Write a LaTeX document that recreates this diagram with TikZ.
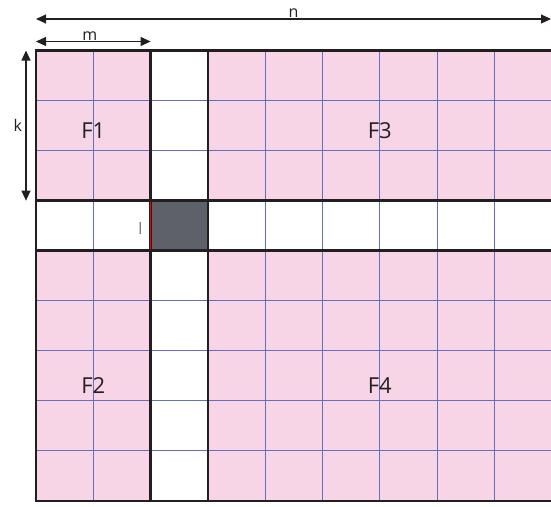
\documentclass[tikz,border=0pt]{standalone}
\usepackage{fontspec}
\setmainfont{Open Sans}
\usepackage{tikz}
\usetikzlibrary{positioning, calc, arrows.meta}

\definecolor{blockpink}{HTML}{F8D5E6}
\definecolor{gridblue}{HTML}{6470B8}
\definecolor{pivotgray}{HTML}{5E6268}
\definecolor{framegray}{HTML}{231F20}

\tikzset{
    heavy/.style={line width=2.6pt, draw=framegray},
    thingrid/.style={line width=0.9pt, draw=gridblue},
    dimarrow/.style={{Triangle[length=10pt,width=9pt]}-{Triangle[length=10pt,width=9pt]}, line width=1.1pt, draw=framegray},
    blocklabel/.style={font=\fontsize{22}{26}\selectfont, text=framegray},
    dimlabel/.style={font=\fontsize{16}{20}\selectfont, text=framegray}
}

\begin{document}
\begin{tikzpicture}[x=1pt, y=-1pt]
    \useasboundingbox (0,0) rectangle (551,506);
    \clip (0,0) rectangle (551,506);

    % cell size and origin of the matrix
    \def\cw{57.3}
    \def\ch{50.05}
    \coordinate (tl) at (36,50.5);
    \coordinate (br) at ($(tl)+(9*\cw+3,9*\ch)$);

    % Blocks
    \fill[blockpink] (tl) rectangle (br);
    \fill[white] ($(tl)+(2*\cw,0)$) rectangle ($(tl)+(3*\cw,9*\ch)$);
    \fill[white] ($(tl)+(0,3*\ch)$) rectangle ($(br|-tl)+(0,4*\ch)$);
    \fill[pivotgray] ($(tl)+(2*\cw,3*\ch)$) rectangle ($(tl)+(3*\cw,4*\ch)$);

    % Grid lines
    \foreach \i in {1,...,8} {
        \draw[thingrid] ($(tl)+(\i*\cw,0)$) -- ($(tl)+(\i*\cw,9*\ch)$);
        \draw[thingrid] ($(tl)+(0,\i*\ch)$) -- ($(br|-tl)+(0,\i*\ch)$);
    }

    % Pivot row and column
    \draw[heavy] ($(tl)+(2*\cw,0)$) rectangle ($(tl)+(3*\cw,9*\ch)$);
    \draw[heavy] ($(tl)+(0,3*\ch)$) rectangle ($(br|-tl)+(0,4*\ch)$);
    \draw[heavy] (tl) rectangle (br);
    \draw[red, line width=1.4pt] ($(tl)+(2*\cw,3*\ch+1.3)$) -- ($(tl)+(2*\cw,4*\ch-1.3)$);

    % Block names
    \node[blocklabel] (F1) at ($(tl)+(\cw,1.6*\ch)$) {F1};
    \node[blocklabel] (F3) at ($(tl)+(6*\cw,1.6*\ch)$) {F3};
    \node[blocklabel] (F2) at ($(tl)+(\cw,6.7*\ch)$) {F2};
    \node[blocklabel] (F4) at ($(tl)+(6*\cw,6.7*\ch)$) {F4};
    \node[dimlabel, text=black!55] (l) at ($(tl)+(1.82*\cw,3.55*\ch)$) {l};

    % Dimensions
    \coordinate (nL) at (36,19);
    \coordinate (nR) at (551,19);
    \coordinate (mL) at (36,41.5);
    \coordinate (mR) at ($(tl)+(2*\cw,-9)$);
    \coordinate (kT) at (26,50.5);
    \coordinate (kB) at ($(tl)+(-10,3*\ch)$);
    \draw[dimarrow] (nL) -- (nR) node[dimlabel, midway, above=-2pt] (n) {n};
    \draw[dimarrow] (mL) -- (mR) node[dimlabel, pos=0.47, above=-3pt] (m) {m};
    \draw[dimarrow] (kT) -- (kB) node[dimlabel, midway, left=0pt] (k) {k};
\end{tikzpicture}
\end{document}
